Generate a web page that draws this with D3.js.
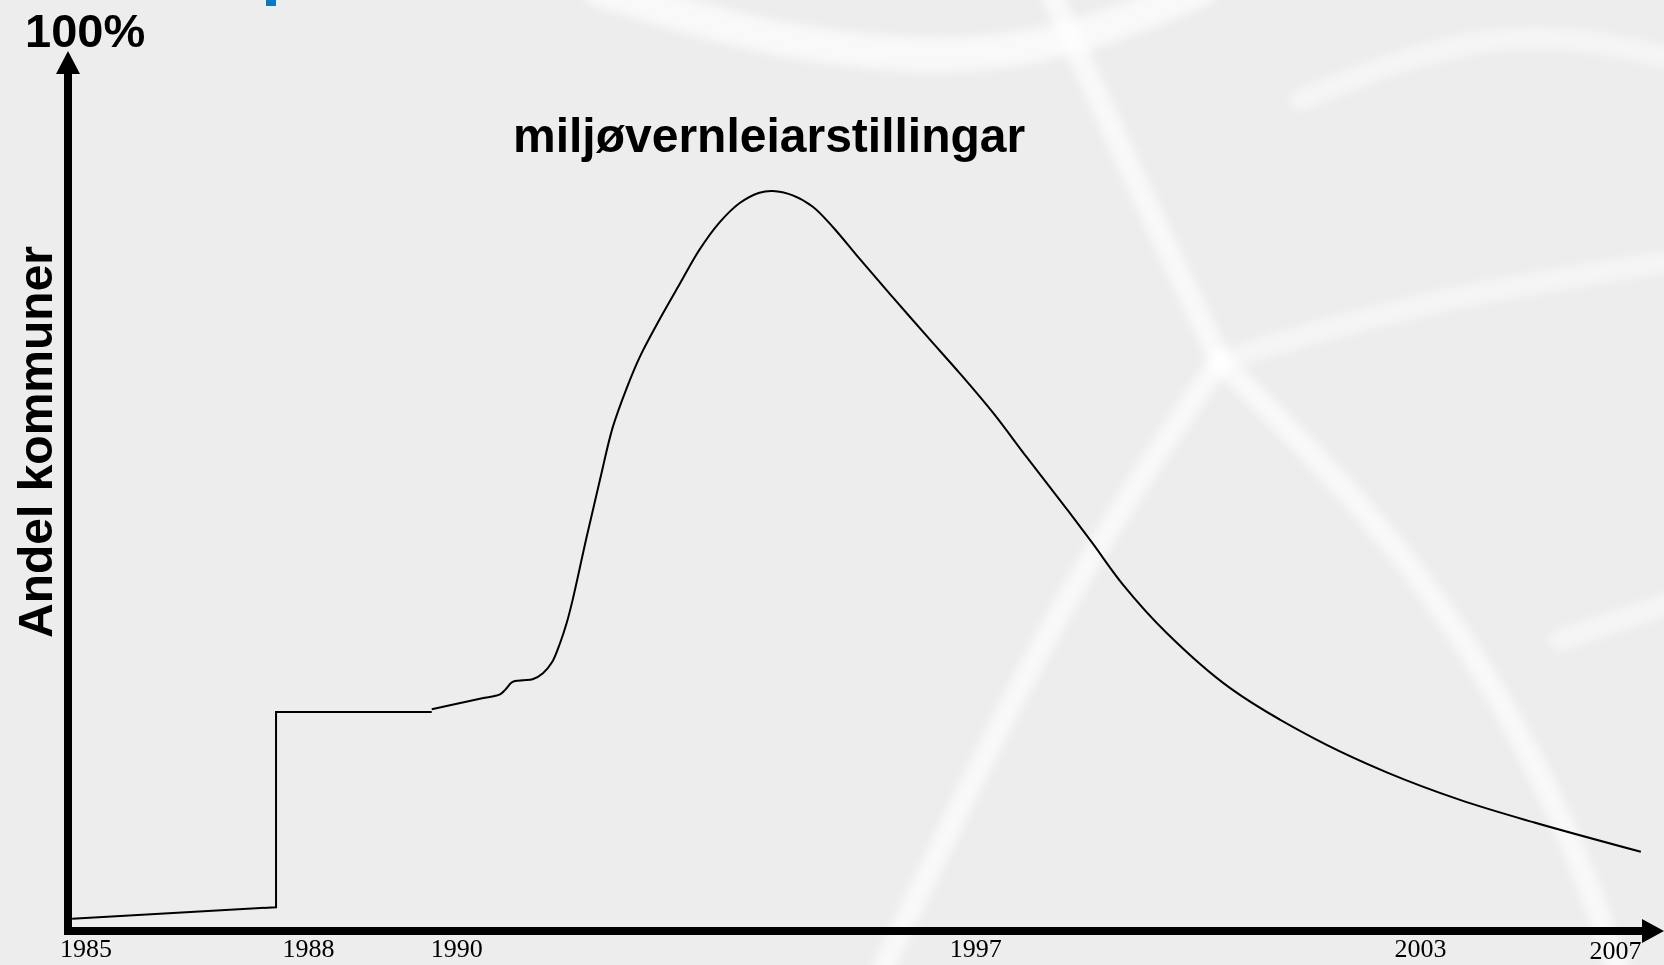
<!DOCTYPE html>
<html>
<head>
<meta charset="utf-8">
<script src="https://cdn.jsdelivr.net/npm/d3@7"></script>
<style>
	html, body { margin: 0; padding: 0; background: #ededed; overflow: hidden; }
	svg { display: block; }
</style>
</head>
<body>
<svg id="chart" width="1664" height="965"></svg>
<script>
// tick labels along the time axis
var tickYears = [1985, 1988, 1990, 1997, 2003, 2007];

// first part: straight pieces with the step up in 1987/88
var stepYears  = [1984.82, 1987.57, 1987.57, 1989.67];
var stepValues = [1.4, 2.7, 24.9, 24.9];

// second part: smooth rise to the peak in the mid 90s and decline
var curveYears  = [1989.67, 1990.32, 1990.59, 1990.66, 1990.76, 1990.9, 1991.03, 1991.17,
	1991.29, 1991.4, 1991.49, 1991.57, 1991.76, 1991.94, 1992.11, 1992.3, 1992.48, 1992.75,
	1993.02, 1993.28, 1993.55, 1993.82, 1994.09, 1994.27, 1994.54, 1994.81, 1995.08, 1995.44,
	1995.89, 1996.39, 1996.79, 1997.24, 1997.69, 1998.14, 1998.58, 1998.99, 1999.58, 2000.44,
	2001.59, 2002.56, 2003.82, 2005.3, 2007.53];
var curveValues = [25.2, 26.4, 26.9, 27.4, 28.3, 28.5, 28.6, 29.3,
	30.5, 32.7, 35.0, 37.6, 44.8, 51.3, 57.2, 61.7, 65.3, 69.6,
	73.6, 77.4, 80.5, 82.7, 83.9, 84.1, 83.6, 82.3, 80.0, 76.4,
	72.0, 67.2, 63.4, 58.9, 53.9, 49.0, 44.1, 39.4, 33.9, 27.6,
	21.8, 18.0, 14.9, 12.4, 9.0];

var svg = d3.select('#chart'),
	width = +svg.attr("width"),
	height = +svg.attr("height");

// faint white netting in the background
var defs = svg.append("defs");
defs.append("filter").attr("id", "soft")
	.append("feGaussianBlur").attr("stdDeviation", 5);

var bg = svg.append("g")
	.attr("fill", "none")
	.attr("stroke", "#ffffff")
	.attr("stroke-linecap", "round")
	.attr("filter", "url(#soft)");
var strands = [
	[[600, -10], [760, 40], [950, 62], [1080, 40], [1200, -10]],
	[[1050, -10], [1130, 170], [1220, 361]],
	[[1220, 361], [1060, 594], [880, 975]],
	[[1220, 361], [1420, 560], [1560, 800], [1620, 975]],
	[[1220, 361], [1420, 300], [1680, 260]],
	[[1560, 640], [1680, 600]],
	[[1300, 100], [1500, 20], [1680, 60]]
];
bg.selectAll("path")
	.data(strands)
	.enter().append("path")
	.attr("d", d3.line().curve(d3.curveBasis))
	.attr("stroke-width", function(d, i) { return i === 0 ? 34 : 22; })
	.attr("opacity", function(d, i) { return i >= 4 ? 0.45 : 0.65; });

// piece of the slide title peeking in at the top
svg.append("rect")
	.attr("x", 266).attr("y", 0)
	.attr("width", 10).attr("height", 6)
	.attr("fill", "#0a78c0");

var x = d3.scaleLinear()
	.domain([1985, 2003, 2007])
	.range([85.5, 1420, 1615]);
var y = d3.scaleLinear()
	.domain([0, 100])
	.range([931, 51]);

var axisX = 68;

// y axis with arrow
svg.append("line")
	.attr("x1", axisX).attr("x2", axisX)
	.attr("y1", y(0) + 4).attr("y2", y(100) + 20)
	.attr("stroke", "#000").attr("stroke-width", 8);
svg.append("path")
	.attr("d", "M" + axisX + "," + y(100) + "L" + (axisX - 12) + "," + (y(100) + 23) + "L" + (axisX + 12) + "," + (y(100) + 23) + "Z")
	.attr("fill", "#000");

// x axis with arrow
svg.append("line")
	.attr("x1", axisX - 4).attr("x2", width - 20)
	.attr("y1", y(0)).attr("y2", y(0))
	.attr("stroke", "#000").attr("stroke-width", 8);
svg.append("path")
	.attr("d", "M" + width + "," + y(0) + "L" + (width - 22) + "," + (y(0) - 12) + "L" + (width - 22) + "," + (y(0) + 12) + "Z")
	.attr("fill", "#000");

var xAxis = svg.append("g")
	.attr("transform", "translate(0," + y(0) + ")")
	.call(d3.axisBottom(x).tickValues(tickYears).tickFormat(d3.format("d")).tickSize(0).tickPadding(8));
xAxis.select(".domain").remove();
xAxis.selectAll("text")
	.attr("fill", "#000")
	.style("font-family", "'Liberation Serif', 'Times New Roman', serif")
	.style("font-size", "26px")
	.attr("dy", function(d) { return d === 2007 ? "0.76em" : "0.71em"; });

// the line itself
var line = d3.line()
	.x(function(d) { return x(d[0]); })
	.y(function(d) { return y(d[1]); });

svg.append("path")
	.datum(d3.zip(stepYears, stepValues))
	.attr("d", line.curve(d3.curveLinear))
	.attr("fill", "none")
	.attr("stroke", "#000")
	.attr("stroke-width", 2);

svg.append("path")
	.datum(d3.zip(curveYears, curveValues))
	.attr("d", line.curve(d3.curveCatmullRom.alpha(0.5)))
	.attr("fill", "none")
	.attr("stroke", "#000")
	.attr("stroke-width", 2);

// texts
var bold = "'Liberation Sans', Arial, sans-serif";
svg.append("text")
	.attr("x", 25).attr("y", 47)
	.style("font-family", bold).style("font-weight", "bold").style("font-size", "47px")
	.text("100%");

svg.append("text")
	.attr("transform", "translate(52,442) rotate(-90)")
	.attr("text-anchor", "middle")
	.style("font-family", bold).style("font-weight", "bold").style("font-size", "48px")
	.text("Andel kommuner");

svg.append("text")
	.attr("x", 513).attr("y", 152)
	.style("font-family", bold).style("font-weight", "bold").style("font-size", "48px")
	.text("miljøvernleiarstillingar");
</script>
</body>
</html>
